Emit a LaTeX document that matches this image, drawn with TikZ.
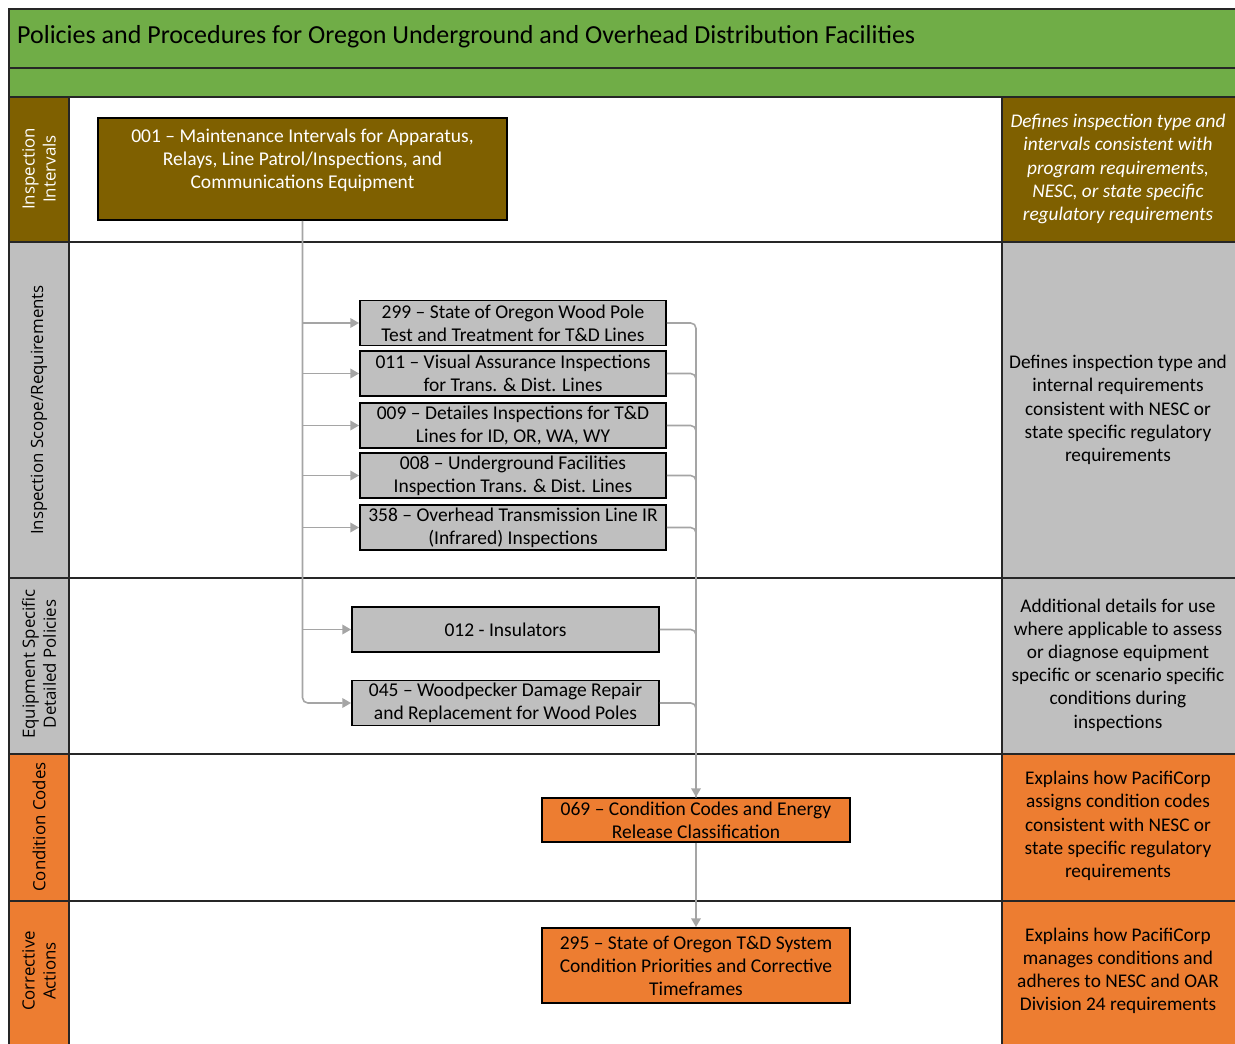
\documentclass[tikz,border=0pt]{standalone}
\usepackage{fontspec}
\setmainfont{Carlito}
\newfontfamily\sidefont{Open Sans}
\usetikzlibrary{arrows.meta}
\definecolor{hdrgreen}{HTML}{70AD47}
\definecolor{polbrown}{HTML}{7F6000}
\definecolor{polgray}{HTML}{BFBFBF}
\definecolor{polorange}{HTML}{ED7D31}
\definecolor{linkgray}{HTML}{A5A5A5}
\definecolor{rulegray}{HTML}{262626}
\tikzset{
  policy/.style={draw=black, line width=1.1pt, align=center, inner sep=0pt,
    font=\fontsize{11.1}{13.1}\selectfont, minimum width=6.12cm, minimum height=0.9cm},
  lane/.style={rotate=90, align=center, font=\sidefont\fontsize{9.6}{12}\selectfont},
  note/.style={align=center, font=\fontsize{11}{13.2}\selectfont},
  rules/.style={draw=rulegray, line width=1.1pt},
  link/.style={draw=linkgray, line width=0.9pt, rounded corners=3pt},
  linkarrow/.style={link, -{Triangle[length=5pt,width=5.5pt]}},
}
\begin{document}
\begin{tikzpicture}[x=0.02cm, y=-0.02cm]
    \useasboundingbox (0,0) rectangle (1235,1044);

    % lanes
    \fill[hdrgreen] (9,9) rectangle (1235,97);
    \fill[polbrown] (9,97) rectangle (69,242);
    \fill[polbrown] (1002,97) rectangle (1235,242);
    \fill[polgray] (9,242) rectangle (69,754);
    \fill[polgray] (1002,242) rectangle (1235,754);
    \fill[polorange] (9,754) rectangle (69,1044);
    \fill[polorange] (1002,754) rectangle (1235,1044);

    \draw[rules] (1235,9) -- (9,9) -- (9,1044);
    \draw[rules] (9,68) -- (1235,68);
    \draw[rules] (9,97) -- (1235,97);
    \draw[rules] (9,242) -- (1235,242);
    \draw[rules] (9,578) -- (1235,578);
    \draw[rules] (9,754) -- (1235,754);
    \draw[rules] (9,901) -- (1235,901);
    \draw[rules] (69,97) -- (69,1044);
    \draw[rules] (1002,97) -- (1002,1044);

    \node[anchor=west, font=\fontsize{14.8}{17}\selectfont] (title) at (11,37)
        {Policies and Procedures for Oregon Underground and Overhead Distribution Facilities};

    \node[lane, text=white] (laneint) at (39,169) {Inspection\\Intervals};
    \node[lane] (lanescope) at (39,410) {Inspection Scope/Requirements};
    \node[lane] (laneequip) at (39,664) {Equipment Specific\\Detailed Policies};
    \node[lane] (lanecode) at (39,827) {Condition Codes};
    \node[lane] (lanefix) at (39,971) {Corrective\\Actions};

    \node[note, text=white, font=\itshape\fontsize{11}{13.2}\selectfont] (noteint) at (1118,169)
        {Defines inspection type and\\intervals consistent with\\program requirements,\\NESC, or state specific\\regulatory requirements};
    \node[note] (notescope) at (1118,410)
        {Defines inspection type and\\internal requirements\\consistent with NESC or\\state specific regulatory\\requirements};
    \node[note] (noteequip) at (1118,665)
        {Additional details for use\\where applicable to assess\\or diagnose equipment\\specific or scenario specific\\conditions during\\inspections};
    \node[note] (notecode) at (1118,826)
        {Explains how PacifiCorp\\assigns condition codes\\consistent with NESC or\\state specific regulatory\\requirements};
    \node[note] (notefix) at (1118,971)
        {Explains how PacifiCorp\\manages conditions and\\adheres to NESC and OAR\\Division 24 requirements};

    % policy boxes
    \node[policy, fill=polbrown, minimum width=8.18cm, minimum height=2.04cm] (b001) at (302.5,169) {};
    \node[policy, draw=none, text=white] (b001text) at (302.5,160)
        {001 -- Maintenance Intervals for Apparatus,\\Relays, Line Patrol/Inspections, and\\Communications Equipment};
    \node[policy, fill=polgray] (b299) at (513,323) {299 -- State of Oregon Wood Pole\\Test and Treatment for T\&D Lines};
    \node[policy, fill=polgray] (b011) at (513,373.5) {011 -- Visual Assurance Inspections\\for Trans. \& Dist. Lines};
    \node[policy, fill=polgray] (b009) at (513,425.5) {009 -- Detailes Inspections for T\&D\\Lines for ID, OR, WA, WY};
    \node[policy, fill=polgray] (b008) at (513,475.5) {008 -- Underground Facilities\\Inspection Trans. \& Dist. Lines};
    \node[policy, fill=polgray] (b358) at (513,527.5) {358 -- Overhead Transmission Line IR\\(Infrared) Inspections};
    \node[policy, fill=polgray, minimum width=6.14cm] (b012) at (505.5,629.5) {012 - Insulators};
    \node[policy, fill=polgray, minimum width=6.14cm] (b045) at (505.5,703) {045 -- Woodpecker Damage Repair\\and Replacement for Wood Poles};
    \node[policy, fill=polorange, minimum width=6.16cm, minimum height=0.88cm] (b069) at (696,820)
        {069 -- Condition Codes and Energy\\Release Classification};
    \node[policy, fill=polorange, minimum width=6.16cm, minimum height=1.5cm] (b295) at (696,965.5)
        {295 -- State of Oregon T\&D System\\Condition Priorities and Corrective\\Timeframes};

    \draw[linkarrow] (b001.south) |- (b045.west);
    \draw[linkarrow] (b001.south |- b299.west) -- (b299.west);
    \draw[linkarrow] (b001.south |- b011.west) -- (b011.west);
    \draw[linkarrow] (b001.south |- b009.west) -- (b009.west);
    \draw[linkarrow] (b001.south |- b008.west) -- (b008.west);
    \draw[linkarrow] (b001.south |- b358.west) -- (b358.west);
    \draw[linkarrow] (b001.south |- b012.west) -- (b012.west);

    \draw[link] (b011.east) -| (b069.north);
    \draw[link] (b009.east) -| (b069.north);
    \draw[link] (b008.east) -| (b069.north);
    \draw[link] (b358.east) -| (b069.north);
    \draw[link] (b012.east) -| (b069.north);
    \draw[link] (b045.east) -| (b069.north);
    \draw[linkarrow] (b299.east) -| (b069.north);
    \draw[linkarrow] (b069.south) -- (b295.north);

\end{tikzpicture}
\end{document}
